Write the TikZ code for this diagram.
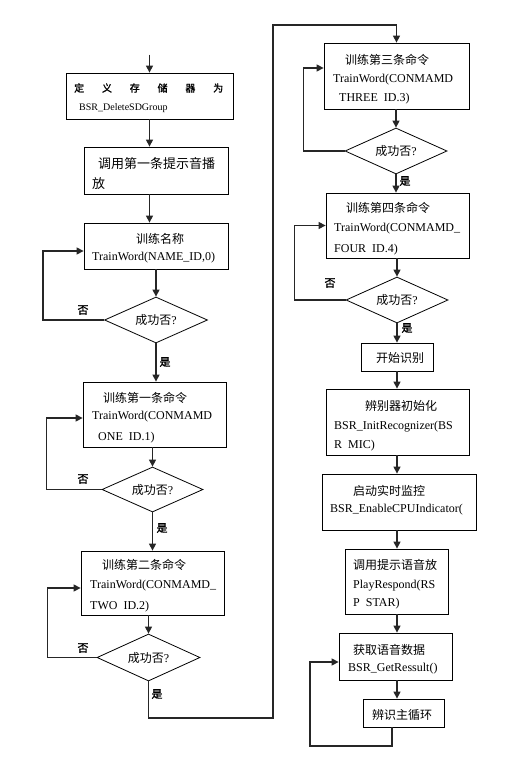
\documentclass[tikz,border=0pt]{standalone}
\usepackage{fontspec}
\setmainfont{Liberation Serif}
\newfontfamily\cjk{Noto Sans CJK SC}
\newfontfamily\cjkb[FakeBold=1.5]{Noto Sans CJK SC}
\usetikzlibrary{shapes.geometric,arrows.meta,calc}
\begin{document}
\begin{tikzpicture}[x=1pt,y=-1pt,
 box/.style={draw=black, line width=0.8pt, inner sep=0pt},
 dia/.style={draw=black, line width=0.8pt, diamond, aspect=2.2, inner sep=0pt, font=\fontsize{12}{14}\selectfont},
 arr/.style={draw=black!85, line width=1.3pt, -{Triangle[length=7pt,width=7pt]}},
 ln/.style={draw=black!85, line width=1.3pt},
 txt/.style={anchor=west, inner sep=0pt, font=\fontsize{12}{14}\selectfont},
 ctxt/.style={anchor=west, inner sep=0pt, font=\fontsize{12}{14}\selectfont\cjk},
 lab/.style={inner sep=0pt, font=\fontsize{11}{13}\selectfont\cjkb}]
\useasboundingbox (0,0) rectangle (530,767);

% ---- left column boxes
\node[box, minimum width=167pt, minimum height=46pt] (b1) at (149.5,96) {};
\node[box, minimum width=144pt, minimum height=47pt] (b2) at (156,170.5) {};
\node[box, minimum width=144pt, minimum height=46pt] (b3) at (156,246) {};
\node[dia, minimum width=103pt, minimum height=46pt] (d1) at (156,320) {{\cjk 成功否}?};
\node[box, minimum width=143pt, minimum height=65pt] (b4) at (154.5,414.5) {};
\node[dia, minimum width=101pt, minimum height=45pt] (d2) at (152.5,489.5) {{\cjk 成功否}?};
\node[box, minimum width=143pt, minimum height=64pt] (b5) at (152.5,583) {};
\node[dia, minimum width=103pt, minimum height=47pt] (d3) at (148.5,657.5) {{\cjk 成功否}?};

% ---- right column boxes
\node[box, minimum width=145pt, minimum height=66pt] (b6) at (396.5,76) {};
\node[dia, minimum width=102pt, minimum height=46pt] (d4) at (396,151) {{\cjk 成功否}?};
\node[box, minimum width=143pt, minimum height=65pt] (b7) at (397.5,225.5) {};
\node[dia, minimum width=102pt, minimum height=46pt] (d5) at (397,300) {{\cjk 成功否}?};
\node[box, minimum width=72pt, minimum height=28pt] (b8) at (397,357) {};
\node[box, minimum width=143pt, minimum height=66pt] (b9) at (397.5,422) {};
\node[box, minimum width=154pt, minimum height=56pt] (b10) at (399,502) {};
\node[box, minimum width=103pt, minimum height=65pt] (b11) at (396.5,581.5) {};
\node[box, minimum width=113pt, minimum height=47pt] (b12) at (395.5,656.5) {};
\node[box, minimum width=81pt, minimum height=28pt] (b13) at (403.5,713) {};

% ---- texts
\node[anchor=west, inner sep=0pt, font=\fontsize{10}{12}\selectfont\cjkb] (t1a) at (74,88) {\hbox to 149pt{定\hfill 义\hfill 存\hfill 储\hfill 器\hfill 为}};
\node[txt, font=\fontsize{10}{12}\selectfont] (t1b) at (79,108) {BSR\_DeleteSDGroup};
\node[ctxt, font=\fontsize{13}{15}\selectfont\cjk] (t2a) at (98,164) {调用第一条提示音播};
\node[ctxt, font=\fontsize{13}{15}\selectfont\cjk] (t2b) at (92,184) {放};
\node[ctxt] (t3a) at (136,239) {训练名称};
\node[txt] (t3b) at (92,258) {TrainWord(NAME\_ID,0)};
\node[ctxt] (t4a) at (103,398) {训练第一条命令};
\node[txt] (t4b) at (92,417) {TrainWord(CONMAMD};
\node[txt] (t4c) at (98,438) {ONE\ \ ID.1)};
\node[ctxt] (t5a) at (102,565) {训练第二条命令};
\node[txt] (t5b) at (90,586) {TrainWord(CONMAMD\_};
\node[txt] (t5c) at (90,607) {TWO\ \ ID.2)};
\node[ctxt] (t6a) at (345,60) {训练第三条命令};
\node[txt] (t6b) at (333,80) {TrainWord(CONMAMD};
\node[txt] (t6c) at (339,99) {THREE\ \ ID.3)};
\node[ctxt] (t7a) at (346,208) {训练第四条命令};
\node[txt] (t7b) at (334,229) {TrainWord(CONMAMD\_};
\node[txt] (t7c) at (334,250) {FOUR\ \ ID.4)};
\node[ctxt] (t8a) at (376,358) {开始识别};
\node[ctxt] (t9a) at (365,406) {辨别器初始化};
\node[txt] (t9b) at (334,427) {BSR\_InitRecognizer(BS};
\node[txt] (t9c) at (334,446) {R\ \ MIC)};
\node[ctxt] (t10a) at (353,491) {启动实时监控};
\node[txt] (t10b) at (330,510) {BSR\_EnableCPUIndicator(};
\node[ctxt] (t11a) at (353,565) {调用提示语音放};
\node[txt] (t11b) at (353,586) {PlayRespond(RS};
\node[txt] (t11c) at (353,604) {P\ \ STAR)};
\node[ctxt] (t12a) at (353,650) {获取语音数据};
\node[txt] (t12b) at (348,669) {BSR\_GetRessult()};
\node[ctxt] (t13a) at (372,715) {辨识主循环};

% ---- yes / no labels
\node[lab] (n1) at (83,310) {否};
\node[lab] (n2) at (83,479) {否};
\node[lab] (n3) at (83,648) {否};
\node[lab] (n5) at (330,283) {否};
\node[lab] (y1) at (165,362) {是};
\node[lab] (y2) at (162,528) {是};
\node[lab] (y3) at (157,694) {是};
\node[lab] (y4) at (405,181) {是};
\node[lab] (y5) at (407,328) {是};

% ---- connectors, left column
\draw[arr] ($(b1.north)+(0,-18)$) -- (b1.north);
\draw[arr] (b1.south) -- (b1.south |- b2.north);
\draw[arr] (b2.south -| b1.south) -- (b3.north -| b1.south);
\draw[arr] (b3.south) -- (d1.north);
\draw[arr] (d1.south) -- (d1.south |- b4.north);
\draw[arr] (b4.south -| d2.north) -- (d2.north);
\draw[arr] (d2.south) -- (d2.south |- b5.north);
\draw[arr] (b5.south -| d3.north) -- (d3.north);
\draw[arr] (d1.west) -- ++(-61,0) |- ($(b3.west)+(0,5)$);
\draw[arr] (d2.west) -- ++(-55,0) |- ($(b4.west)+(0,3.5)$);
\draw[arr] (d3.west) -- ++(-49,0) |- ($(b5.west)+(0,5)$);

% ---- long connector to right column
\coordinate (ya) at (273,718);
\coordinate (yb) at (273,25);
\draw[arr] (d3.south) |- (ya) -- (yb) -| (b6.north);

% ---- connectors, right column
\draw[arr] (b6.south -| d4.north) -- (d4.north);
\draw[arr] (d4.south) -- (d4.south |- b7.north);
\draw[arr] (b7.south -| d5.north) -- (d5.north);
\draw[arr] (d5.south) -- (d5.south |- b8.north);
\draw[arr] (d4.west) -- ++(-41,0) |- ($(b6.west)+(0,-8)$);
\draw[arr] (d5.west) -- ++(-51,0) |- (b7.west);
\draw[arr] (b8.south) -- (b8.south |- b9.north);
\draw[arr] (b9.south -| b8.south) -- (b10.north -| b8.south);
\draw[arr] (b10.south -| b8.south) -- (b11.north -| b8.south);
\draw[arr] (b11.south -| b8.south) -- (b12.north -| b8.south);
\draw[arr] (b12.south -| b8.south) -- (b13.north -| b8.south);
\coordinate (la) at (392,746);
\coordinate (lb) at (310,746);
\draw[arr] (b13.south -| la) -- (la) -- (lb) |- ($(b12.west)+(0,5.5)$);
\end{tikzpicture}
\end{document}
